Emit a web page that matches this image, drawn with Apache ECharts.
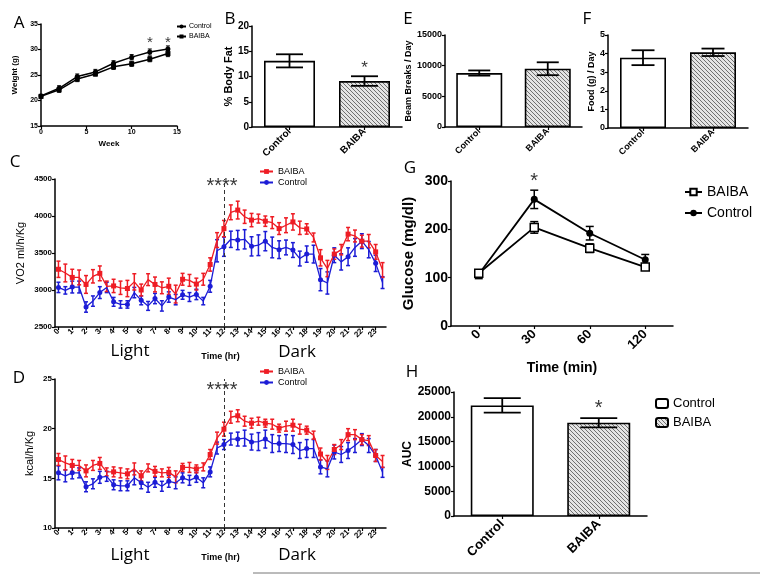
<!DOCTYPE html>
<html><head><meta charset="utf-8">
<script src="https://cdn.jsdelivr.net/npm/echarts@6/dist/echarts.min.js"></script>
<style>html,body{margin:0;padding:0;background:#fff}#c{width:760px;height:575px}</style>
</head><body><div id="c"></div>
<script>
// ---------- DATA ----------
const weeks = [0, 2, 4, 6, 8, 10, 12, 14];
const weightControl = [20.9, 22.4, 24.7, 25.6, 27.3, 28.5, 29.5, 30.1];
const weightControlErr = [0.3, 0.5, 0.5, 0.5, 0.5, 0.5, 0.6, 0.6];
const weightBaiba = [20.8, 22.1, 24.2, 25.2, 26.6, 27.2, 28.1, 29.2];
const weightBaibaErr = [0.3, 0.5, 0.5, 0.4, 0.5, 0.5, 0.5, 0.6];
const weightStarWeeks = [12, 14];

const groups = ['Control', 'BAIBA'];
const bodyFat = [13.1, 9.1];
const bodyFatErr = [1.3, 0.95];
const beamBreaks = [8800, 9500];
const beamBreaksErr = [420, 1050];
const food = [3.78, 4.07];
const foodErr = [0.4, 0.2];

const halfHours = ['0','0.5','1','1.5','2','2.5','3','3.5','4','4.5','5','5.5','6','6.5','7','7.5','8','8.5','9','9.5','10','10.5','11','11.5',
  '12','12.5','13','13.5','14','14.5','15','15.5','16','16.5','17','17.5','18','18.5','19','19.5','20','20.5','21','21.5','22','22.5','23','23.5'];
const vo2Baiba = [3280,3230,3170,3170,3075,3185,3225,3050,3055,3030,3020,3110,3000,3140,3075,3030,3050,2945,3145,3130,
  3080,3145,3345,3675,3830,4050,4080,3990,3945,3965,3930,3910,3830,3875,3920,3840,3825,3710,3435,3290,3485,3545,3755,3730,3660,3660,3515,3270];
const vo2BaibaErr = [110,120,110,100,120,90,100,70,90,90,110,110,80,80,100,80,110,120,80,80,
  80,80,90,100,110,100,120,90,90,60,70,80,80,100,110,90,70,60,110,110,70,70,90,80,80,90,100,100];
const vo2Control = [3035,2995,3040,3040,2770,2850,2965,3035,2840,2805,2805,2965,2860,2785,2885,2785,2905,2870,2935,2905,
  2940,2850,3050,3530,3585,3685,3675,3685,3590,3605,3660,3575,3545,3575,3540,3425,3485,3485,3140,3095,3470,3380,3450,3575,3660,3545,3360,3100];
const vo2ControlErr = [70,50,80,80,70,70,80,70,60,50,50,70,60,60,70,70,70,70,60,60,
  70,50,80,150,130,110,130,130,130,140,130,140,120,100,100,100,110,120,150,150,100,110,120,120,100,110,110,80];

const eeBaiba = [16.9,16.55,16.3,16.3,15.75,16.3,16.5,15.65,15.65,15.55,15.45,15.95,15.25,16.05,15.7,15.55,15.6,15.15,16.1,16.1,
  15.95,16.15,17.4,19.05,19.95,21.15,21.3,20.75,20.55,20.75,20.55,20.45,20.05,20.25,20.35,19.95,19.85,19.35,17.45,16.6,17.9,18.4,19.4,19.4,18.9,18.8,17.3,16.7];
const eeBaibaErr = [0.6,0.7,0.6,0.5,0.6,0.5,0.6,0.4,0.5,0.5,0.5,0.6,0.5,0.4,0.5,0.4,0.5,0.6,0.4,0.5,
  0.4,0.4,0.5,0.6,0.7,0.6,0.6,0.5,0.5,0.4,0.4,0.5,0.4,0.5,0.6,0.5,0.4,0.4,0.6,0.7,0.5,0.5,0.6,0.5,0.5,0.5,0.6,0.6];
const eeControl = [15.55,15.25,15.55,15.55,14.15,14.45,15.1,15.2,14.35,14.25,14.25,15.05,14.55,14.1,14.6,14.2,14.7,14.55,15.05,14.8,
  15.1,14.55,15.65,18.05,18.4,18.95,18.95,19.05,18.65,18.7,18.95,18.5,18.5,18.5,18.4,17.8,18.0,18.0,16.15,15.95,17.65,17.4,17.8,18.3,18.9,18.3,17.3,15.6];
const eeControlErr = [0.7,0.6,0.6,0.5,0.5,0.5,0.6,0.5,0.5,0.5,0.5,0.7,0.6,0.5,0.5,0.5,0.6,0.6,0.5,0.5,
  0.5,0.5,0.5,0.6,0.5,0.6,0.7,0.8,0.8,0.9,0.9,0.9,0.8,0.9,0.9,0.8,0.9,0.9,0.7,0.8,0.7,0.8,0.8,0.7,0.6,0.7,0.6,0.5];

const hourTickLabels = ['0','1','2','3','4','5','6','7','8','9','10','11','12','13','14','15','16','17','18','19','20','21','22','23'];

const glucoseTimes = ['0', '30', '60', '120'];
const glucoseBaiba = [109, 204, 161, 122];
const glucoseBaibaErr = [7, 12, 9, 6];
const glucoseControl = [107, 262, 192, 137];
const glucoseControlErr = [9, 19, 14, 11];

const aucValues = [22300, 18800];
const aucErr = [1450, 950];

// ---------- STYLE HELPERS ----------
const FONT = 'Liberation Sans';
const RED = '#ee1c24', BLUE = '#1c1cd6';
function makeHatch() {
  const c = document.createElement('canvas'); c.width = 4; c.height = 4;
  const g = c.getContext('2d');
  g.fillStyle = '#e4e4e4'; g.fillRect(0, 0, 4, 4);
  g.fillStyle = '#707070';
  for (let i = 0; i < 4; i++) g.fillRect(i, i, 1, 1);
  return c;
}
const hatch = { image: makeHatch(), repeat: 'repeat' };
const strip = n => n.split('|')[1];

function errRender(cap, lw, color) {
  return function (params, api) {
    const x = api.value(0), m = api.value(1), e = api.value(2);
    const p1 = api.coord([x, m + e]), p2 = api.coord([x, m - e]);
    const h = cap / 2;
    const style = { stroke: color, lineWidth: lw, fill: null };
    return { type: 'group', children: [
      { type: 'line', shape: { x1: p1[0], y1: p1[1], x2: p2[0], y2: p2[1] }, style },
      { type: 'line', shape: { x1: p1[0] - h, y1: p1[1], x2: p1[0] + h, y2: p1[1] }, style },
      { type: 'line', shape: { x1: p2[0] - h, y1: p2[1], x2: p2[0] + h, y2: p2[1] }, style }
    ] };
  };
}
function errSeries(xi, yi, xs, means, errs, cap, lw, color, z) {
  return { type: 'custom', xAxisIndex: xi, yAxisIndex: yi, z: z || 5,
    renderItem: errRender(cap, lw, color), silent: true,
    data: means.map((m, i) => [xs[i], m, errs[i]]) };
}
function starSeries(xi, yi, pts, text, size, offset) {
  return { type: 'scatter', xAxisIndex: xi, yAxisIndex: yi, symbolSize: 1, clip: false, silent: true,
    itemStyle: { color: 'transparent' },
    label: { show: true, position: 'inside', formatter: text, fontSize: size, color: '#000', fontFamily: FONT, offset: offset || [0, 0] },
    data: pts };
}
function axisBase(fs, bold) {
  return {
    axisLine: { show: true, onZero: false, lineStyle: { color: '#000', width: 1.5 } },
    axisTick: { show: true, length: 3, lineStyle: { color: '#000', width: 1.2 } },
    axisLabel: { color: '#000', fontSize: fs, fontWeight: bold ? 'bold' : 'normal', fontFamily: FONT, margin: 3 },
    splitLine: { show: false }
  };
}
function valAxis(gi, min, max, interval, fs, name, nameGap, nameFs, nameBold) {
  const a = Object.assign(axisBase(fs, true), {
    type: 'value', gridIndex: gi, min, max, interval,
    name, nameLocation: 'middle', nameGap, nameRotate: 90,
    nameTextStyle: { color: '#000', fontSize: nameFs, fontWeight: nameBold ? 'bold' : 'normal', fontFamily: FONT }
  });
  a.axisLabel.formatter = v => String(v);
  return a;
}
function catAxis(gi, data, fs, rotate) {
  const a = Object.assign(axisBase(fs, true), { type: 'category', gridIndex: gi, data, boundaryGap: true });
  a.axisTick.alignWithLabel = true;
  a.axisLabel.rotate = rotate;
  return a;
}
function barPair(prefix, xi, yi, vals, width) {
  return [
    { name: prefix + '|Control', type: 'bar', xAxisIndex: xi, yAxisIndex: yi, barWidth: width, barGap: '-100%',
      itemStyle: { color: '#fff', borderColor: '#000', borderWidth: 1.6 }, data: [vals[0], '-'] },
    { name: prefix + '|BAIBA', type: 'bar', xAxisIndex: xi, yAxisIndex: yi, barWidth: width, barGap: '-100%',
      itemStyle: { color: hatch, borderColor: '#000', borderWidth: 1.6 }, data: ['-', vals[1]] }
  ];
}
function lineSeries(name, xi, yi, data, color, symbol, size, lw, fill) {
  return { name, type: 'line', xAxisIndex: xi, yAxisIndex: yi, data, symbol, symbolSize: size, showSymbol: true,
    lineStyle: { color, width: lw }, itemStyle: { color: fill || color, borderColor: color, borderWidth: fill ? 1.5 : 0 }, z: 6 };
}

// ---------- AXES ----------
const hourXAxis = gi => {
  const a = catAxis(gi, halfHours, 8, 45);
  a.axisLabel.interval = idx => idx % 2 === 0;
  a.axisTick.interval = idx => idx % 2 === 0;
  a.axisLabel.formatter = v => hourTickLabels[hourTickLabels.indexOf(v)] || '';
  a.name = 'Time (hr)'; a.nameLocation = 'middle'; a.nameGap = 25;
  a.nameTextStyle = { color: '#000', fontSize: 9, fontWeight: 'bold', fontFamily: FONT };
  return a;
};

const xAxes = [
  Object.assign(axisBase(7, true), { type: 'value', gridIndex: 0, min: 0, max: 15, interval: 5,
    name: 'Week', nameLocation: 'middle', nameGap: 14,
    nameTextStyle: { color: '#000', fontSize: 8, fontWeight: 'bold', fontFamily: FONT } }),
  catAxis(1, groups, 10, 45),
  catAxis(2, groups, 9, 45),
  catAxis(3, groups, 9, 45),
  hourXAxis(4),
  hourXAxis(5),
  Object.assign(catAxis(6, glucoseTimes, 13, 45), { name: 'Time (min)', nameLocation: 'middle', nameGap: 35,
    nameTextStyle: { color: '#000', fontSize: 14, fontWeight: 'bold', fontFamily: FONT } }),
  catAxis(7, groups, 13, 45)
];
xAxes[6].axisLabel.margin = 6;
xAxes[7].axisLabel.margin = 6;
const yAxes = [
  valAxis(0, 15, 35, 5, 7, 'Weight (g)', 22, 8, true),
  valAxis(1, 0, 20, 5, 10, '% Body Fat', 18, 11, true),
  valAxis(2, 0, 15000, 5000, 9, 'Beam Breaks / Day', 32, 9, true),
  valAxis(3, 0, 5, 1, 9, 'Food (g) / Day', 11, 9, true),
  valAxis(4, 2500, 4500, 500, 8, 'VO2 ml/h/Kg', 29, 11, false),
  valAxis(5, 10, 25, 5, 8, 'kcal/h/Kg', 20, 11, false),
  valAxis(6, 0, 300, 100, 14, 'Glucose (mg/dl)', 35, 15, true),
  valAxis(7, 0, 25000, 5000, 12, 'AUC', 40, 12, true)
];

// ---------- SERIES ----------
const series = [
  // A
  errSeries(0, 0, weeks, weightControl, weightControlErr, 4, 1, '#000'),
  errSeries(0, 0, weeks, weightBaiba, weightBaibaErr, 4, 1, '#000'),
  lineSeries('A|Control', 0, 0, weeks.map((w, i) => [w, weightControl[i]]), '#000', 'circle', 5, 1.5),
  lineSeries('A|BAIBA', 0, 0, weeks.map((w, i) => [w, weightBaiba[i]]), '#000', 'rect', 5, 1.5),
  starSeries(0, 0, weightStarWeeks.map(w => [w, 31.3]), '*', 15),
  // B
  ...barPair('B', 1, 1, bodyFat, 51),
  errSeries(1, 1, groups, bodyFat, bodyFatErr, 27, 1.8, '#000'),
  starSeries(1, 1, [['BAIBA', 11.6]], '*', 17),
  // E
  ...barPair('E', 2, 2, beamBreaks, 46),
  errSeries(2, 2, groups, beamBreaks, beamBreaksErr, 22, 1.8, '#000'),
  // F
  ...barPair('F', 3, 3, food, 46),
  errSeries(3, 3, groups, food, foodErr, 23, 1.8, '#000'),
  // C
  errSeries(4, 4, halfHours, vo2Control, vo2ControlErr, 4, 1.5, BLUE, 4),
  errSeries(4, 4, halfHours, vo2Baiba, vo2BaibaErr, 4, 1.5, RED, 4),
  lineSeries('C|Control', 4, 4, vo2Control, BLUE, 'circle', 5, 1.3),
  lineSeries('C|BAIBA', 4, 4, vo2Baiba, RED, 'rect', 5, 1.3),
  starSeries(4, 4, [['12', 4400]], '****', 20, [-2, 0]),
  { type: 'line', xAxisIndex: 4, yAxisIndex: 4, data: [], silent: true,
    markLine: { silent: true, symbol: 'none', label: { show: false }, lineStyle: { color: '#333', type: [4, 3], width: 1 },
      data: [{ xAxis: '12' }] } },
  // D
  errSeries(5, 5, halfHours, eeControl, eeControlErr, 4, 1.5, BLUE, 4),
  errSeries(5, 5, halfHours, eeBaiba, eeBaibaErr, 4, 1.5, RED, 4),
  lineSeries('D|Control', 5, 5, eeControl, BLUE, 'circle', 5, 1.3),
  lineSeries('D|BAIBA', 5, 5, eeBaiba, RED, 'rect', 5, 1.3),
  starSeries(5, 5, [['12', 23.8]], '****', 20, [-2, 0]),
  { type: 'line', xAxisIndex: 5, yAxisIndex: 5, data: [], silent: true,
    markLine: { silent: true, symbol: 'none', label: { show: false }, lineStyle: { color: '#333', type: [4, 3], width: 1 },
      data: [{ xAxis: '12' }] } },
  // G
  errSeries(6, 6, glucoseTimes, glucoseControl, glucoseControlErr, 8, 1.5, '#000'),
  errSeries(6, 6, glucoseTimes, glucoseBaiba, glucoseBaibaErr, 8, 1.5, '#000'),
  lineSeries('G|Control', 6, 6, glucoseControl, '#000', 'circle', 7, 1.8),
  lineSeries('G|BAIBA', 6, 6, glucoseBaiba, '#000', 'rect', 8, 1.8, '#fff'),
  starSeries(6, 6, [['30', 300]], '*', 20),
  // H
  ...barPair('H', 7, 7, aucValues, 63),
  errSeries(7, 7, groups, aucValues, aucErr, 37, 1.8, '#000'),
  starSeries(7, 7, [['BAIBA', 21600]], '*', 20)
];

const legendBase = { orient: 'vertical', selectedMode: false, formatter: strip, padding: 0 };
const option = {
  animation: false,
  backgroundColor: '#fff',
  grid: [
    { left: 41, top: 24, width: 136, height: 102 },
    { left: 252, top: 26, width: 150, height: 101 },
    { left: 445, top: 35, width: 137, height: 92 },
    { left: 608, top: 35, width: 140, height: 93 },
    { left: 55, top: 179, width: 331, height: 148 },
    { left: 55, top: 379, width: 331, height: 149 },
    { left: 451, top: 181, width: 222, height: 145 },
    { left: 454, top: 392, width: 193, height: 124 }
  ],
  xAxis: xAxes,
  yAxis: yAxes,
  legend: [
    Object.assign({}, legendBase, { data: ['A|Control', 'A|BAIBA'], left: 176, top: 23, itemWidth: 9, itemHeight: 5, itemGap: 3,
      itemGap: 3, textStyle: { fontSize: 7, fontFamily: FONT, color: '#000', padding: [0, 0, 0, -2] } }),
    Object.assign({}, legendBase, { data: ['C|BAIBA', 'C|Control'], left: 259, top: 167, itemWidth: 13, itemHeight: 6, itemGap: 2,
      textStyle: { fontSize: 9, fontFamily: FONT, color: '#000' } }),
    Object.assign({}, legendBase, { data: ['D|BAIBA', 'D|Control'], left: 259, top: 367, itemWidth: 13, itemHeight: 6, itemGap: 2,
      textStyle: { fontSize: 9, fontFamily: FONT, color: '#000' } }),
    Object.assign({}, legendBase, { data: ['G|BAIBA', 'G|Control'], left: 684, top: 185, itemWidth: 17, itemHeight: 8, itemGap: 7,
      textStyle: { fontSize: 14, fontFamily: FONT, color: '#000' } }),
    Object.assign({}, legendBase, { data: ['H|Control', 'H|BAIBA'], left: 655, top: 397, itemWidth: 12, itemHeight: 9, itemGap: 6,
      textStyle: { fontSize: 13, fontFamily: FONT, color: '#000' } })
  ],
  graphic: [
    ...[['A', 19, 23], ['B', 230, 19], ['E', 408, 19], ['F', 587, 19], ['C', 15, 162], ['D', 19, 378], ['G', 410, 168], ['H', 412, 372]]
      .map(([t, x, y]) => ({ type: 'text', x, y, style: { text: t, fontSize: 17, fontFamily: 'Open Sans', fill: '#000', align: 'center', verticalAlign: 'middle' } })),
    ...[['Light', 130, 351], ['Dark', 297, 352], ['Light', 130, 555], ['Dark', 297, 555]]
      .map(([t, x, y]) => ({ type: 'text', x, y, style: { text: t, fontSize: 17, fontFamily: 'Open Sans', fill: '#000', align: 'center', verticalAlign: 'middle' } })),
    { type: 'line', shape: { x1: 253, y1: 573, x2: 760, y2: 573 }, style: { stroke: '#777', lineWidth: 1 } }
  ],
  series
};
const chart = echarts.init(document.getElementById('c'), null, { renderer: 'canvas' });
chart.setOption(option);
</script></body></html>
